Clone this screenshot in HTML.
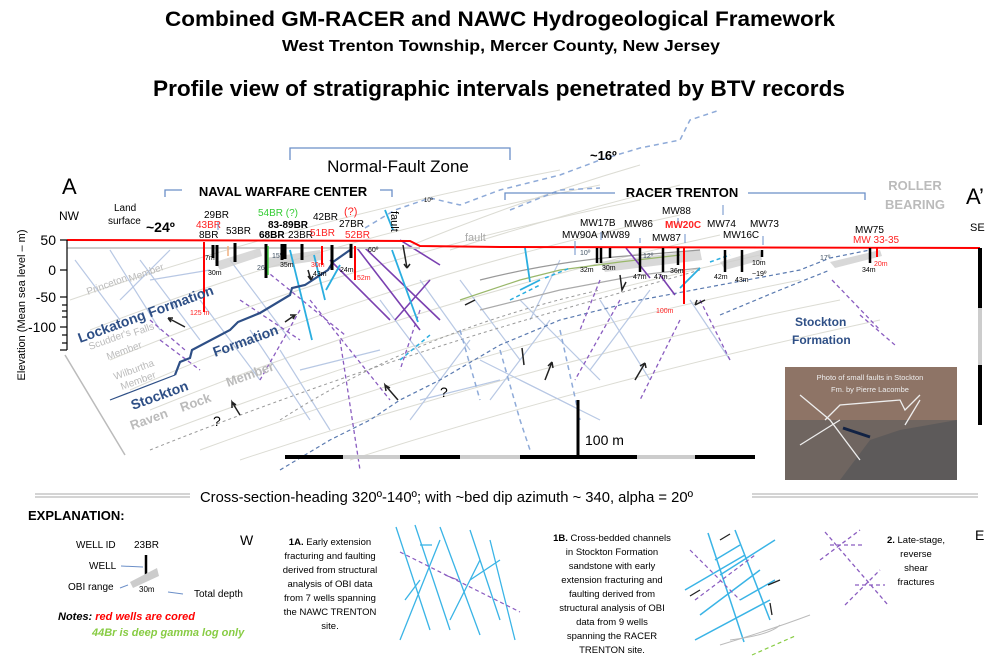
<!DOCTYPE html>
<html><head><meta charset="utf-8"><style>
html,body{margin:0;padding:0;background:#fff;}
svg{display:block;font-family:"Liberation Sans",sans-serif;}
</style></head><body>
<svg width="1005" height="657" viewBox="0 0 1005 657" xmlns="http://www.w3.org/2000/svg">
<rect width="1005" height="657" fill="#fff"/>
<!-- titles -->
<text x="165" y="26" font-size="21" font-weight="bold" textLength="670" lengthAdjust="spacingAndGlyphs">Combined GM-RACER and NAWC Hydrogeological Framework</text>
<text x="282" y="51" font-size="16" font-weight="bold" textLength="438" lengthAdjust="spacingAndGlyphs">West Trenton Township, Mercer County, New Jersey</text>
<text x="153" y="96" font-size="22" font-weight="bold" textLength="692" lengthAdjust="spacingAndGlyphs">Profile view of stratigraphic intervals penetrated by BTV records</text>

<!-- faint bedding lines background -->
<g stroke="#dcdcd4" stroke-width="1" fill="none">
<path d="M70,300 Q300,220 560,170"/><path d="M90,330 Q320,240 600,185"/><path d="M110,360 Q350,260 640,200"/>
<path d="M130,390 Q380,280 680,215"/><path d="M150,410 Q420,300 720,235"/><path d="M170,430 Q460,320 760,255"/>
<path d="M200,450 Q500,340 800,280"/><path d="M240,460 Q540,360 840,300"/><path d="M350,460 Q600,380 880,320"/>
<path d="M400,250 Q520,200 640,165"/><path d="M450,250 Q560,215 680,185"/>
</g>
<!-- light blue fracture lines -->
<g stroke="#b8c8e4" stroke-width="1.2" fill="none">
<path d="M75,260 L120,320"/><path d="M110,250 L160,330"/><path d="M140,260 L200,340"/><path d="M170,250 L120,300"/>
<path d="M200,300 L260,380"/><path d="M230,260 L290,340"/><path d="M250,330 L310,420"/><path d="M280,350 L330,430"/>
<path d="M380,300 L440,380"/><path d="M420,280 L470,350"/><path d="M460,280 L520,360"/><path d="M470,340 L410,420"/>
<path d="M520,300 L600,380"/><path d="M550,320 L490,400"/><path d="M600,300 L650,380"/><path d="M650,290 L590,370"/>
<path d="M690,300 L730,360"/><path d="M480,360 L580,410"/><path d="M520,380 L600,420"/><path d="M150,280 L210,270"/>
<path d="M300,370 L380,350"/><path d="M420,400 L500,380"/><path d="M560,260 L530,320"/>
</g>
<!-- gray dashed -->
<g stroke="#999" stroke-width="1" stroke-dasharray="3,3" fill="none">
<path d="M150,450 Q350,370 560,310 L700,270"/><path d="M280,420 Q420,330 600,290"/>
</g>
<!-- dark blue dashed -->
<g stroke="#5a7ab0" stroke-width="1.2" stroke-dasharray="4,3" fill="none">
<path d="M280,470 L330,440 L370,420 L400,400 L440,380 L500,345 L560,320 L640,300 L720,285 L800,270 L830,258 L870,250"/>
<path d="M720,315 L780,290 L830,270"/>
</g>
<!-- light blue dashed from upper -->
<g stroke="#8eaad8" stroke-width="1.5" stroke-dasharray="5,4" fill="none">
<path d="M365,228 L395,210 L430,198 L460,205 L500,190 L560,175 L600,160 L640,148 L680,140 L690,120 L720,110"/>
<path d="M510,210 L560,190 L600,188"/>
<path d="M500,350 L520,420 L530,450"/><path d="M560,330 L580,420"/><path d="M460,330 L480,400"/>
</g>
<!-- gray shaded OBI ranges -->
<g fill="#cfcfcf" opacity="0.8">
<polygon points="215,262 260,248 262,256 220,270"/><polygon points="265,258 320,250 322,260 268,268"/>
<polygon points="600,262 700,250 702,260 605,272"/><polygon points="720,262 760,250 762,260 725,270"/>
<polygon points="830,262 880,250 882,256 835,268"/>
</g>
<!-- grey/green curvy contacts -->
<path d="M480,280 Q560,260 640,255 L700,250" stroke="#999" stroke-width="1.2" fill="none"/>
<path d="M460,300 L520,280 L560,270 L620,262 L680,255" stroke="#9ab86a" stroke-width="1.2" fill="none"/>
<path d="M480,310 L560,290 L640,275 L700,268" stroke="#aaa" stroke-width="1.2" fill="none"/>

<!-- purple dashed fractures -->
<g stroke="#8a5cc0" stroke-width="1.3" stroke-dasharray="4,3" fill="none">
<path d="M150,320 L185,350"/><path d="M160,340 L200,370"/><path d="M240,300 L300,340"/><path d="M265,270 L345,335"/>
<path d="M300,310 L260,380"/><path d="M310,300 L390,400"/><path d="M340,340 L360,470"/><path d="M420,310 L400,370"/>
<path d="M600,280 L580,330"/><path d="M620,300 L575,380"/><path d="M680,320 L640,400"/><path d="M700,300 L730,360"/>
<path d="M832,280 L880,330"/><path d="M860,315 L895,345"/>
</g>
<!-- purple solid -->
<g stroke="#7a40b0" stroke-width="1.6" fill="none">
<path d="M357,248 L420,330"/><path d="M365,248 L440,320"/><path d="M330,260 L390,320"/><path d="M400,240 L440,265"/>
<path d="M430,280 L395,320"/><path d="M626,248 L650,278"/><path d="M660,275 L675,295"/>
</g>
<!-- cyan faults -->
<g stroke="#2aaee0" stroke-width="1.8" fill="none">
<path d="M290,250 L312,340"/><path d="M314,255 L325,300"/><path d="M392,250 L418,322"/><path d="M385,210 L393,230"/>
<path d="M340,265 L326,290"/><path d="M525,248 L530,282"/><path d="M680,288 L700,268"/><path d="M520,290 L540,280"/>
</g>
<g stroke="#2aaee0" stroke-width="1.5" stroke-dasharray="4,3" fill="none">
<path d="M400,360 L430,335"/><path d="M510,300 L540,285"/><path d="M545,278 L570,268"/><path d="M710,262 L730,255"/>
</g>
<!-- formation boundary -->
<path d="M175,375 L180,362 L190,358 L192,350 L230,330 L238,322 L260,313 L290,295 L292,288 L305,285 L328,270 L333,262 L350,250" stroke="#2e4f86" stroke-width="2.2" fill="none"/>
<path d="M110,400 L175,375" stroke="#2e4f86" stroke-width="1.2" fill="none"/>
<path d="M65,355 L125,455" stroke="#bbb" stroke-width="1.5"/>

<!-- surface -->
<line x1="67" y1="248" x2="420" y2="248" stroke="#ccc" stroke-width="2"/>
<path d="M67,240 L410,241 L420,246 L500,247 L980,248" stroke="#f00" stroke-width="2" fill="none"/>
<!-- axis -->
<g stroke="#000" stroke-width="1.2">
<line x1="67" y1="240" x2="67" y2="350"/>
<line x1="60" y1="240" x2="67" y2="240"/><line x1="60" y1="270" x2="67" y2="270"/><line x1="60" y1="297" x2="67" y2="297"/><line x1="60" y1="327" x2="67" y2="327"/>
<line x1="62" y1="305" x2="67" y2="305"/><line x1="62" y1="311" x2="67" y2="311"/><line x1="62" y1="317" x2="67" y2="317"/><line x1="62" y1="335" x2="67" y2="335"/><line x1="62" y1="343" x2="67" y2="343"/><line x1="60" y1="350" x2="67" y2="350"/>
</g>
<g font-size="14" text-anchor="end"><text x="56" y="245">50</text><text x="56" y="275">0</text><text x="56" y="302">-50</text><text x="56" y="332">-100</text></g>
<text transform="translate(25,305) rotate(-90)" font-size="11" text-anchor="middle">Elevation (Mean sea level – m)</text>

<!-- header labels -->
<text x="62" y="194" font-size="22">A</text>
<text x="59" y="220" font-size="12">NW</text>
<text x="114" y="211" font-size="10">Land</text><text x="108" y="224" font-size="10">surface</text>
<text x="146" y="232" font-size="14" font-weight="bold">~24º</text>
<path d="M290,160 L290,148 L510,148 L510,160" stroke="#6b8fc8" stroke-width="1.3" fill="none"/>
<text x="398" y="172" font-size="17" text-anchor="middle">Normal-Fault Zone</text>
<path d="M165,197 L165,190 L182,190 M380,190 L392,190 L392,197" stroke="#6b8fc8" stroke-width="1.3" fill="none"/>
<text x="283" y="196" font-size="13" font-weight="bold" text-anchor="middle">NAVAL WARFARE CENTER</text>
<text x="590" y="160" font-size="13" font-weight="bold">~16º</text>
<path d="M505,200 L505,193 L615,193 M748,193 L865,193 L865,200" stroke="#6b8fc8" stroke-width="1.3" fill="none"/>
<text x="682" y="197" font-size="13" font-weight="bold" text-anchor="middle">RACER TRENTON</text>
<text x="915" y="190" font-size="13" font-weight="bold" fill="#bbb" text-anchor="middle">ROLLER</text>
<text x="915" y="209" font-size="13" font-weight="bold" fill="#bbb" text-anchor="middle">BEARING</text>
<text x="966" y="204" font-size="22">A’</text>
<text x="970" y="231" font-size="11">SE</text>

<!-- well labels NAWC -->
<g font-size="10">
<text x="204" y="218">29BR</text><text x="196" y="228" fill="#f22">43BR</text><text x="199" y="238">8BR</text>
<text x="226" y="234">53BR</text><text x="258" y="216" fill="#3c3">54BR (?)</text>
<text x="268" y="228" font-weight="bold">83-89BR</text><text x="259" y="238" font-weight="bold">68BR</text>
<text x="288" y="238">23BR</text><text x="313" y="220">42BR</text><text x="310" y="236" fill="#f22">51BR</text>
<text x="344" y="215" fill="#f22" font-size="11">(?)</text><text x="339" y="227">27BR</text><text x="345" y="238" fill="#f22">52BR</text>
<text transform="translate(391,211) rotate(90)" font-size="11">fault</text>
<text x="465" y="241" fill="#aaa" font-size="11">fault</text>
<text x="424" y="202" font-size="6">10º</text>
</g>
<g font-size="7"><text x="205" y="260">7m</text><text x="208" y="275">30m</text><text x="257" y="270" fill="#456">26º</text><text x="272" y="258" fill="#456">15º</text>
<text x="280" y="267">35m</text><text x="311" y="267" fill="#f22">30m</text><text x="313" y="276">43m</text><text x="340" y="272">24m</text>
<text x="357" y="280" fill="#f22">52m</text><text x="368" y="252">60º</text><text x="190" y="315" fill="#f22">125 m</text></g>

<!-- wells NAWC -->
<g stroke="#000" stroke-width="3">
<line x1="213" y1="245" x2="213" y2="258"/><line x1="217" y1="245" x2="217" y2="266"/><line x1="235" y1="243" x2="235" y2="262"/>
<line x1="266" y1="244" x2="266" y2="278"/><line x1="282" y1="244" x2="282" y2="260"/><line x1="285" y1="244" x2="285" y2="259"/>
<line x1="302" y1="244" x2="302" y2="260"/><line x1="332" y1="245" x2="332" y2="270"/><line x1="351" y1="244" x2="351" y2="258"/>
</g>
<g stroke="#f00" stroke-width="2"><line x1="204" y1="242" x2="204" y2="312"/><line x1="322" y1="246" x2="322" y2="265"/><line x1="355" y1="246" x2="355" y2="280"/><line x1="684" y1="248" x2="684" y2="304"/><line x1="877" y1="248" x2="877" y2="257"/></g>
<line x1="268" y1="246" x2="268" y2="275" stroke="#4c4" stroke-width="1.5"/>
<line x1="228" y1="246" x2="228" y2="256" stroke="#f0b080" stroke-width="1.5"/>

<!-- wells RACER -->
<g font-size="10">
<text x="562" y="238">MW90A</text><text x="580" y="226">MW17B</text><text x="601" y="238">MW89</text>
<text x="624" y="227">MW86</text><text x="652" y="241">MW87</text><text x="662" y="214">MW88</text>
<text x="665" y="228" fill="#f22" font-weight="bold">MW20C</text><text x="707" y="227">MW74</text>
<text x="723" y="238">MW16C</text><text x="750" y="227">MW73</text><text x="855" y="233">MW75</text>
<text x="853" y="243" fill="#f22">MW 33-35</text>
</g>
<g font-size="7"><text x="580" y="255" fill="#456">10º</text><text x="580" y="272">32m</text><text x="602" y="270">30m</text>
<text x="633" y="279">47m</text><text x="654" y="279">47m</text><text x="670" y="273">36m</text><text x="643" y="258" fill="#456">12º</text>
<text x="714" y="279">42m</text><text x="735" y="282">43m</text><text x="752" y="265">10m</text><text x="752" y="276">~19º</text>
<text x="820" y="260" fill="#456">17º</text><text x="862" y="272">34m</text><text x="874" y="266" fill="#f22">20m</text><text x="656" y="313" fill="#f22">100m</text></g>
<g stroke="#000" stroke-width="2.5">
<line x1="597" y1="248" x2="597" y2="263"/><line x1="601" y1="248" x2="601" y2="263"/><line x1="610" y1="248" x2="610" y2="258"/>
<line x1="640" y1="248" x2="640" y2="272"/><line x1="663" y1="248" x2="663" y2="272"/><line x1="678" y1="248" x2="678" y2="265"/>
<line x1="725" y1="250" x2="725" y2="272"/><line x1="742" y1="250" x2="742" y2="272"/><line x1="762" y1="250" x2="762" y2="257"/>
<line x1="870" y1="248" x2="870" y2="263"/>
</g>
<g stroke="#6b8fc8" stroke-width="1"><line x1="575" y1="241" x2="575" y2="255"/><line x1="601" y1="232" x2="601" y2="240"/><line x1="640" y1="238" x2="640" y2="243"/><line x1="678" y1="218" x2="678" y2="223"/><line x1="685" y1="234" x2="685" y2="243"/><line x1="723" y1="205" x2="723" y2="215"/><line x1="763" y1="236" x2="763" y2="245"/><line x1="218" y1="222" x2="218" y2="230"/></g>

<!-- formation text -->
<g font-weight="bold" fill="#2e4f86" font-size="14">
<text transform="translate(80,343) rotate(-20)">Lockatong Formation</text>
<text transform="translate(133,410) rotate(-20)">Stockton</text>
<text transform="translate(215,357) rotate(-20)">Formation</text>
<text x="795" y="326" font-size="12">Stockton</text>
<text x="792" y="344" font-size="12">Formation</text>
</g>
<g fill="#bbb" font-size="10">
<text transform="translate(88,295) rotate(-20)">Princeton</text><text transform="translate(130,282) rotate(-20)">Member</text>
<text transform="translate(90,350) rotate(-20)">Scudder's</text><text transform="translate(135,336) rotate(-20)">Falls</text>
<text transform="translate(108,360) rotate(-20)">Member</text>
<text transform="translate(115,380) rotate(-20)">Wilburtha</text><text transform="translate(122,390) rotate(-20)">Member</text>
<text transform="translate(132,430) rotate(-20)" font-size="13" font-weight="bold">Raven</text>
<text transform="translate(182,412) rotate(-20)" font-size="13" font-weight="bold">Rock</text>
<text transform="translate(228,387) rotate(-20)" font-size="13" font-weight="bold">Member</text>
</g>
<g font-size="14"><text x="213" y="426">?</text><text x="440" y="397">?</text></g>
<!-- arrows -->
<g stroke="#222" stroke-width="1.5" fill="none">
<path d="M185,327 L168,318 M168,318 L173,318 M168,318 L171,322"/>
<path d="M240,415 L232,402 L232,408 M232,402 L236,405"/>
<path d="M398,400 L385,385 L386,391 M385,385 L390,388"/>
<path d="M285,322 L295,315 L290,315 M295,315 L293,319"/>
<path d="M308,270 L311,280 L308,276 M311,280 L313,276"/>
<path d="M403,245 L407,268 L404,264 M407,268 L410,264"/>
<path d="M620,275 L622,290 L626,282"/>
<path d="M705,300 L695,305 M695,305 L697,300"/>
<path d="M475,300 L465,305"/>
<path d="M545,380 L552,362 L548,366 M552,362 L553,368"/>
<path d="M635,380 L645,363 L640,366 M645,363 L646,368"/>
<path d="M522,348 L524,365"/>
</g>

<!-- scale bar -->
<g stroke-width="4">
<line x1="285" y1="457" x2="343" y2="457" stroke="#000"/><line x1="343" y1="457" x2="400" y2="457" stroke="#ccc"/>
<line x1="400" y1="457" x2="460" y2="457" stroke="#000"/><line x1="460" y1="457" x2="520" y2="457" stroke="#ccc"/>
<line x1="520" y1="457" x2="637" y2="457" stroke="#000"/><line x1="637" y1="457" x2="695" y2="457" stroke="#ccc"/>
<line x1="695" y1="457" x2="755" y2="457" stroke="#000"/>
</g>
<line x1="578" y1="400" x2="578" y2="457" stroke="#000" stroke-width="3"/>
<text x="585" y="445" font-size="14">100 m</text>
<!-- right bar -->
<line x1="980" y1="248" x2="980" y2="308" stroke="#000" stroke-width="4"/>
<line x1="980" y1="308" x2="980" y2="365" stroke="#ccc" stroke-width="4"/>
<line x1="980" y1="365" x2="980" y2="425" stroke="#000" stroke-width="4"/>

<!-- photo -->
<rect x="785" y="367" width="172" height="113" fill="#8e7466"/>
<rect x="785" y="420" width="172" height="60" fill="#6f6560"/>
<polygon points="840,480 870,440 900,430 957,420 957,480" fill="#5d5a5a"/>
<g stroke="#eee" stroke-width="1.3" fill="none"><path d="M800,395 L830,420 L860,460"/><path d="M825,420 L840,405 L900,400 L905,410 L920,395"/><path d="M800,445 L840,420"/><path d="M905,425 L920,400"/></g>
<line x1="843" y1="428" x2="870" y2="437" stroke="#124" stroke-width="3"/>
<text x="870" y="380" font-size="7.5" fill="#eee" text-anchor="middle">Photo  of small faults in Stockton</text>
<text x="870" y="392" font-size="7.5" fill="#eee" text-anchor="middle">Fm.  by Pierre Lacombe</text>

<!-- separators -->
<g stroke="#bbb" stroke-width="1.2"><line x1="35" y1="494" x2="190" y2="494"/><line x1="35" y1="497" x2="190" y2="497"/>
<line x1="752" y1="494" x2="978" y2="494"/><line x1="752" y1="497" x2="978" y2="497"/></g>
<text x="200" y="502" font-size="15" textLength="493" lengthAdjust="spacingAndGlyphs">Cross-section-heading  320º-140º; with ~bed dip azimuth ~ 340, alpha = 20º</text>

<!-- explanation -->
<text x="28" y="520" font-size="13" font-weight="bold">EXPLANATION:</text>
<g font-size="10"><text x="76" y="548">WELL ID</text><text x="134" y="548">23BR</text>
<text x="89" y="569">WELL</text><text x="68" y="590">OBI range</text><text x="139" y="592" font-size="8">30m</text><text x="194" y="597">Total depth</text></g>
<line x1="146" y1="555" x2="146" y2="580" stroke="#000" stroke-width="2.5"/>
<polygon points="130,582 157,568 159,576 133,588" fill="#ccc"/>
<g stroke="#6b8fc8" stroke-width="1"><line x1="121" y1="566" x2="143" y2="567"/><line x1="120" y1="588" x2="128" y2="585"/><line x1="168" y1="592" x2="183" y2="594"/></g>
<text x="58" y="620" font-size="11" font-weight="bold" font-style="italic">Notes: <tspan fill="#f00">red wells are cored</tspan></text>
<text x="92" y="636" font-size="11" font-weight="bold" font-style="italic" fill="#8c4">44Br is deep gamma log only</text>
<text x="240" y="545" font-size="14">W</text>
<g font-size="9.5" text-anchor="middle"><text x="330" y="545"><tspan font-weight="bold">1A.</tspan> Early extension</text>
<text x="330" y="559">fracturing and faulting</text><text x="330" y="573">derived from structural</text>
<text x="330" y="587">analysis  of OBI data</text><text x="330" y="601">from 7 wells  spanning</text>
<text x="330" y="615">the NAWC TRENTON</text><text x="330" y="629">site.</text></g>
<!-- 1A glyph -->
<g stroke="#3ab4e6" stroke-width="1.3" fill="none">
<path d="M396,527 L430,630"/><path d="M415,525 L450,630"/><path d="M440,527 L480,635"/><path d="M470,530 L500,620"/><path d="M490,540 L515,640"/>
<path d="M440,540 L400,640"/><path d="M480,560 L450,620"/><path d="M420,580 L405,600"/><path d="M500,560 L470,580"/><path d="M420,545 L432,545"/>
</g>
<path d="M400,552 L520,612" stroke="#8a5cc0" stroke-width="1.2" stroke-dasharray="4,3"/>
<path d="M445,575 L458,580" stroke="#8a5cc0" stroke-width="1.2"/>
<g font-size="9.5" text-anchor="middle"><text x="612" y="541"><tspan font-weight="bold">1B.</tspan> Cross-bedded  channels</text>
<text x="612" y="555">in Stockton Formation</text><text x="612" y="569">sandstone  with early</text>
<text x="612" y="583">extension fracturing and</text><text x="612" y="597">faulting derived from</text>
<text x="612" y="611">structural analysis of OBI</text><text x="612" y="625">data from 9 wells</text>
<text x="612" y="639">spanning the RACER</text><text x="612" y="653">TRENTON site.</text></g>
<!-- 1B glyph -->
<g stroke="#3ab4e6" stroke-width="1.5" fill="none">
<path d="M708,533 L744,642"/><path d="M735,530 L770,620"/><path d="M685,590 L745,555"/><path d="M720,575 L775,540"/>
<path d="M700,615 L760,570"/><path d="M695,640 L770,600"/><path d="M740,600 L775,580"/><path d="M715,560 L740,545"/>
</g>
<g stroke="#8a5cc0" stroke-width="1.2" stroke-dasharray="4,3" fill="none"><path d="M690,550 L740,600"/><path d="M695,600 L755,555"/></g>
<g stroke="#bbb" stroke-width="1" fill="none"><path d="M720,645 Q770,630 810,615"/><path d="M730,640 Q770,635 780,625"/></g>
<path d="M752,655 L795,636" stroke="#8c4" stroke-width="1.2" stroke-dasharray="4,3"/>
<g stroke="#222" stroke-width="1.3"><line x1="720" y1="540" x2="730" y2="534"/><line x1="690" y1="596" x2="700" y2="590"/><line x1="768" y1="585" x2="780" y2="580"/><line x1="770" y1="603" x2="772" y2="615"/></g>
<g stroke="#8a5cc0" stroke-width="1.3" stroke-dasharray="4,3" fill="none">
<path d="M825,532 L888,605"/><path d="M820,560 L860,530"/><path d="M845,605 L880,570"/><path d="M830,545 L865,545"/><path d="M855,585 L885,585"/>
</g>
<g font-size="9.5" text-anchor="middle"><text x="916" y="543"><tspan font-weight="bold">2.</tspan> Late-stage,</text>
<text x="916" y="557">reverse</text><text x="916" y="571">shear</text><text x="916" y="585">fractures</text></g>
<text x="975" y="540" font-size="14">E</text>
</svg>
</body></html>
